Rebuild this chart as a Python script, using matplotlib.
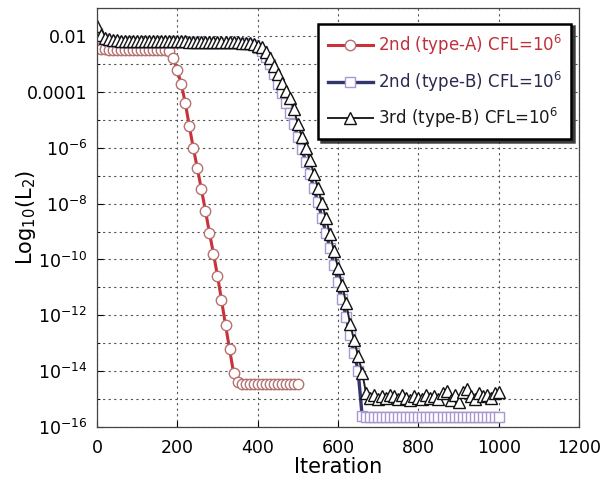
import numpy as np
import matplotlib
matplotlib.use('Agg')
import matplotlib.pyplot as plt
from matplotlib.ticker import FixedLocator, NullFormatter

# log10 of residual, one point every 10 iterations
iter_a = list(range(0, 510, 10))
log_a = [-2.42, -2.45, -2.47, -2.48, -2.48, -2.48, -2.48, -2.48, -2.48, -2.48,
         -2.48, -2.48, -2.48, -2.48, -2.48, -2.48, -2.48, -2.49, -2.52, -2.79,
         -3.22, -3.72, -4.40, -5.23, -6.02, -6.74, -7.49, -8.25, -9.04, -9.79,
         -10.58, -11.45, -12.35, -13.20, -14.06, -14.40, -14.45, -14.45, -14.46, -14.45,
         -14.46, -14.45, -14.45, -14.46, -14.45, -14.45, -14.46, -14.45, -14.45, -14.45,
         -14.45]

iter_bc = list(range(0, 1010, 10))
log_b = [-1.90, -2.05, -2.12, -2.17, -2.19, -2.20, -2.20, -2.21, -2.21, -2.21,
         -2.21, -2.21, -2.21, -2.21, -2.21, -2.22, -2.22, -2.22, -2.22, -2.22,
         -2.22, -2.22, -2.22, -2.22, -2.22, -2.22, -2.22, -2.23, -2.23, -2.23,
         -2.23, -2.23, -2.23, -2.24, -2.24, -2.24, -2.25, -2.26, -2.28, -2.32,
         -2.42, -2.55, -2.75, -3.00, -3.35, -3.70, -4.05, -4.40, -4.75, -5.15,
         -5.60, -6.05, -6.50, -6.95, -7.45, -7.95, -8.50, -9.05, -9.60, -10.20,
         -10.80, -11.40, -12.05, -12.70, -13.35, -14.00, -15.60, -15.65, -15.65, -15.66,
         -15.65, -15.65, -15.66, -15.65, -15.65, -15.64, -15.65, -15.65, -15.66, -15.65,
         -15.65, -15.65, -15.66, -15.65, -15.65, -15.64, -15.65, -15.65, -15.66, -15.65,
         -15.65, -15.65, -15.66, -15.65, -15.65, -15.64, -15.65, -15.65, -15.66, -15.65,
         -15.65]
log_c = [-1.65, -1.95, -2.05, -2.10, -2.13, -2.15, -2.16, -2.17, -2.17, -2.18,
         -2.18, -2.18, -2.18, -2.18, -2.18, -2.19, -2.19, -2.19, -2.19, -2.19,
         -2.19, -2.19, -2.19, -2.20, -2.20, -2.20, -2.20, -2.20, -2.20, -2.21,
         -2.21, -2.21, -2.21, -2.22, -2.22, -2.22, -2.23, -2.24, -2.26, -2.29,
         -2.34, -2.40, -2.58, -2.77, -3.07, -3.37, -3.67, -3.95, -4.23, -4.60,
         -5.15, -5.60, -6.00, -6.45, -6.93, -7.44, -7.98, -8.53, -9.10, -9.70,
         -10.30, -10.90, -11.55, -12.30, -12.90, -13.45, -14.05, -14.80, -14.95, -14.85,
         -15.00, -14.90, -14.95, -14.85, -14.90, -15.00, -14.85, -14.95, -15.05, -14.90,
         -14.95, -15.00, -14.85, -14.95, -14.90, -15.00, -14.80, -14.70, -15.05, -14.85,
         -15.10, -14.75, -14.65, -14.90, -15.00, -14.80, -14.90, -14.85, -14.95, -14.80,
         -14.75]

labels = ['2nd (type-A) CFL=10$^6$', '2nd (type-B) CFL=10$^6$', '3rd (type-B) CFL=10$^6$']

plt.rcParams['font.family'] = 'DejaVu Sans'
fig = plt.figure(figsize=(6.02, 4.83), dpi=100)
ax = fig.add_axes([0.161, 0.116, 0.801, 0.867])

ax.semilogy(iter_a, 10.0 ** np.array(log_a), '-o', color='#c8323a', lw=2.2,
            ms=7.5, mfc='white', mec='#b57070', mew=1.0, label=labels[0])
ax.semilogy(iter_bc, 10.0 ** np.array(log_b), '-s', color='#34346e', lw=2.4,
            ms=7, mfc='white', mec='#a898d0', mew=1.0, label=labels[1])
ax.semilogy(iter_bc, 10.0 ** np.array(log_c), '-^', color='#222222', lw=1.4,
            ms=8, mfc='white', mec='#111111', mew=1.0, label=labels[2])

ax.set_xlim(0, 1200)
ax.set_ylim(1e-16, 1e-1)
ax.set_xticks([0, 200, 400, 600, 800, 1000, 1200])
major = [10.0 ** e for e in range(-16, 0, 2)]
ax.yaxis.set_major_locator(FixedLocator(major))
ylabs = []
for e in range(-16, 0, 2):
    if e == -2:
        ylabs.append('0.01')
    elif e == -4:
        ylabs.append('0.0001')
    else:
        ylabs.append('$10^{%d}$' % e)
ax.set_yticklabels(ylabs)
ax.yaxis.set_minor_locator(FixedLocator([10.0 ** e for e in range(-15, 0, 2)]))
ax.yaxis.set_minor_formatter(NullFormatter())

ax.tick_params(axis='both', which='major', direction='in', labelsize=12.5, length=4)
ax.tick_params(axis='x', which='major', pad=9)
ax.tick_params(axis='y', which='major', pad=7)
ax.tick_params(axis='y', which='minor', direction='in', length=2)
ax.grid(True, which='both', axis='y', ls=(0, (2, 3)), color='#555555', lw=0.8)
ax.grid(True, which='major', axis='x', ls=(0, (2, 3)), color='#555555', lw=0.8)
for s in ax.spines.values():
    s.set_color('#444444')
    s.set_linewidth(0.9)

ax.set_xlabel('Iteration', fontsize=15, labelpad=0)
ax.set_ylabel('Log$_{10}$(L$_2$)', fontsize=15)
ax.yaxis.set_label_coords(-0.122, 0.5)

leg = ax.legend(loc='upper right', bbox_to_anchor=(0.993, 0.975), fontsize=12,
                frameon=True, fancybox=False, shadow={'color': '#333333', 'alpha': 0.9},
                handlelength=2.7, borderpad=0.55, labelspacing=0.75, handletextpad=0.3,
                borderaxespad=0.3)
leg.get_frame().set_edgecolor('black')
leg.get_frame().set_linewidth(1.8)
leg.get_texts()[0].set_color('#c0303a')
leg.get_texts()[1].set_color('#2a2a50')
leg.get_texts()[2].set_color('#1a1a1a')

fig.savefig('out.png', dpi=100)
